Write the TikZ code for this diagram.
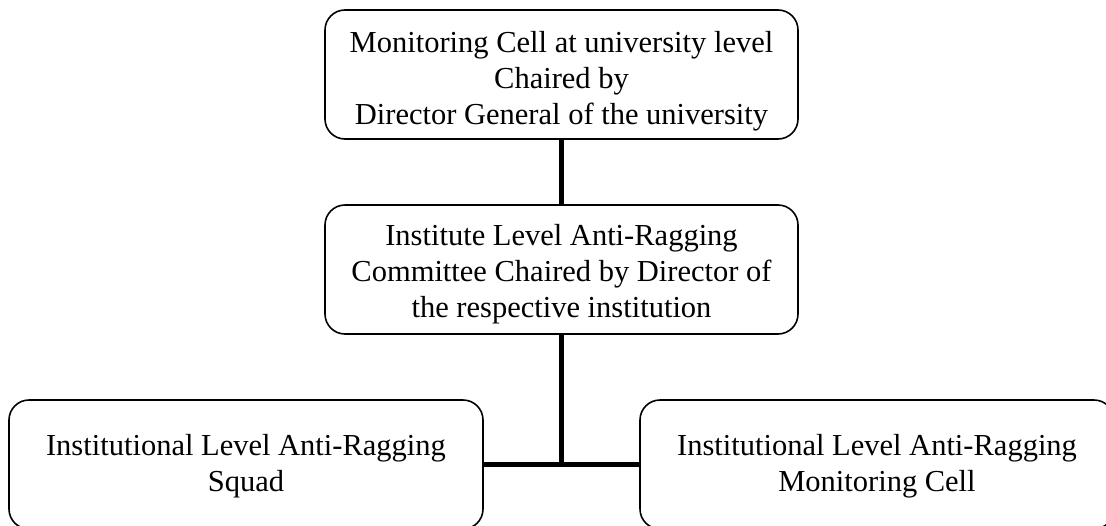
\documentclass[tikz,border=0pt]{standalone}
\usepackage{fontspec}
\setmainfont{Liberation Serif}
\newcommand\boxlines[2]{\raisebox{#1}[\height][\depth]{\begin{tabular}{@{}c@{}}#2\end{tabular}}}
\begin{document}
\begin{tikzpicture}[x=1pt,y=-1pt,
  box/.style={draw=black, line width=1.6pt, rounded corners=20pt, align=center,
    minimum width=473pt, minimum height=129pt, inner sep=0pt,
    font=\fontsize{30.5}{36}\selectfont},
  link/.style={draw=black, line width=5.5pt}]
\useasboundingbox (0,0) rectangle (1106,525);
\clip (0,0) rectangle (1106,525);
\node[box] (top) at (561.5,74.5) {\boxlines{-7pt}{Monitoring Cell at university level\\Chaired by\\Director General of the university}};
\node[box] (mid) at (561.5,269.5) {\boxlines{-5pt}{Institute Level Anti-Ragging\\Committee Chaired by Director of\\the respective institution}};
\node[box, minimum width=474pt] (left) at (246,464.5) {\boxlines{-1.5pt}{Institutional Level Anti-Ragging\\Squad}};
\node[box, minimum width=474pt] (right) at (877,464.5) {\boxlines{-1.5pt}{Institutional Level Anti-Ragging\\Monitoring Cell}};
\coordinate (j) at (mid.south |- left.east);
\draw[link] (top.south) -- (mid.north);
\draw[link] (mid.south) -- (j);
\draw[link] (left.east) -- (right.west);
\end{tikzpicture}
\end{document}
